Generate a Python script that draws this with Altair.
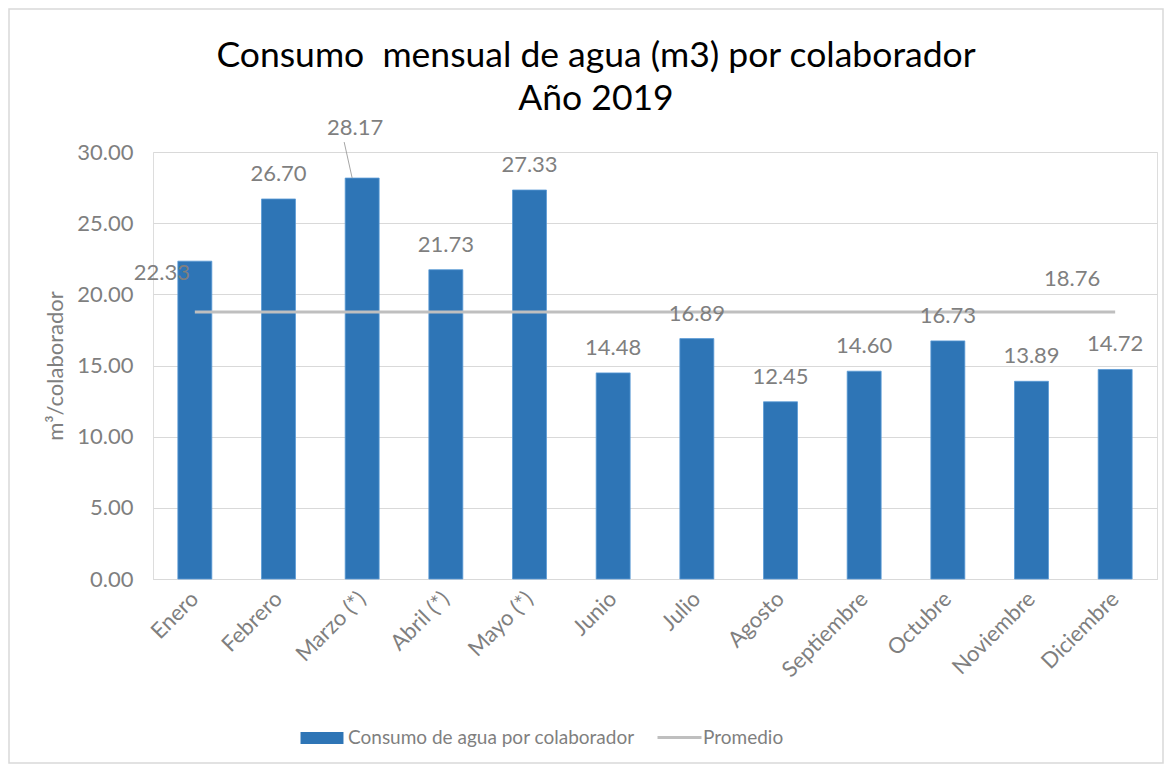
import altair as alt
import pandas as pd

meses = ["Enero", "Febrero", "Marzo (*)", "Abril (*)", "Mayo (*)", "Junio",
         "Julio", "Agosto", "Septiembre", "Octubre", "Noviembre", "Diciembre"]
consumo = [22.33, 26.70, 28.17, 21.73, 27.33, 14.48, 16.89, 12.45, 14.60, 16.73, 13.89, 14.72]
promedio = [18.76, 18.76, 18.76, 18.76, 18.76, 18.76, 18.76, 18.76, 18.76, 18.76, 18.76, 18.76]
serie_barras = "Consumo de agua por colaborador"
serie_linea = "Promedio"
titulo = ["Consumo \u00a0mensual de agua (m3) por colaborador", "Año 2019"]
y_titulo = "m³/colaborador"

FONT = "Lato"
GRAY_TXT = "#7f7f7f"
BLUE = "#2e75b6"
LINE_GRAY = "#bfbfbf"

df = pd.DataFrame({
    "mes": meses,
    "consumo": consumo,
    "promedio": promedio,
    "serie_b": serie_barras,
    "serie_l": serie_linea,
})
df["etiqueta"] = df["consumo"].map(lambda v: f"{v:.2f}")
df["etiqueta_prom"] = df["promedio"].map(lambda v: f"{v:.2f}")

W, H = 1004, 427
PAD = {"left": 145, "top": 144, "right": 7, "bottom": 185}
LBL = 22

xenc = alt.X("mes:N", sort=meses,
             scale=alt.Scale(paddingInner=0.594, paddingOuter=0.297),
             axis=alt.Axis(title=None, labelAngle=315, labelFontSize=22, labelColor=GRAY_TXT,
                           labelFont=FONT, ticks=False, domainColor="#d9d9d9", labelPadding=16,
                           labelAlign="right", labelBaseline="middle", grid=False))
yscale = alt.Scale(domain=[0, 30])

base = alt.Chart(df)

frame = alt.Chart(alt.Data(values=[{"k": 1}])).mark_rect(
    fill=None, stroke="#d9d9d9", strokeWidth=1.5
).encode(x=alt.value(-144), x2=alt.value(1010), y=alt.value(-143), y2=alt.value(611))

bars = base.mark_bar(color=BLUE, stroke="#5b9bd5", strokeWidth=0.8).encode(
    x=xenc,
    y=alt.Y("consumo:Q", scale=yscale,
            axis=alt.Axis(title=y_titulo, format=".2f", values=[0, 5, 10, 15, 20, 25, 30],
                          labelFontSize=22, labelColor=GRAY_TXT, labelFont=FONT,
                          titleFont=FONT, titleFontSize=22, titleColor=GRAY_TXT,
                          titleFontWeight="normal", titlePadding=9,
                          ticks=False, domain=False, labelPadding=20,
                          gridColor="#d9d9d9", gridWidth=1)),
    color=alt.Color("serie_b:N", scale=alt.Scale(range=[BLUE]),
                    legend=alt.Legend(title=None, orient="none", legendX=157, legendY=574,
                                      symbolType="M-1.79,-0.5H1.79V0.5H-1.79Z", symbolSize=576,
                                      symbolStrokeWidth=0, labelOffset=14, labelFontSize=19,
                                      labelLimit=500,
                                      labelFont=FONT, labelColor=GRAY_TXT)),
)

line = base.mark_line(strokeWidth=3).encode(
    x=alt.X("mes:N", sort=meses),
    y=alt.Y("promedio:Q", scale=yscale),
    stroke=alt.Stroke("serie_l:N", scale=alt.Scale(range=[LINE_GRAY]),
                      legend=alt.Legend(title=None, orient="none", legendX=503, legendY=562,
                                        symbolType="stroke", symbolSize=1936,
                                        symbolStrokeWidth=3, labelOffset=0, labelFontSize=19,
                                        labelLimit=500,
                                        labelFont=FONT, labelColor=GRAY_TXT)),
)

normal = base.transform_filter(
    "datum.mes != 'Enero' && datum.mes != 'Marzo (*)'"
).mark_text(fontSize=LBL, font=FONT, color=GRAY_TXT, baseline="middle", dy=-25).encode(
    x=alt.X("mes:N", sort=meses), y=alt.Y("consumo:Q", scale=yscale), text="etiqueta:N")

enero = base.transform_filter("datum.mes == 'Enero'").mark_text(
    fontSize=LBL, font=FONT, color=GRAY_TXT, baseline="middle", dx=-33, dy=12
).encode(x=alt.X("mes:N", sort=meses), y=alt.Y("consumo:Q", scale=yscale), text="etiqueta:N")

marzo = base.transform_filter("datum.mes == 'Marzo (*)'").mark_text(
    fontSize=LBL, font=FONT, color=GRAY_TXT, baseline="middle", dx=-7, dy=-50
).encode(x=alt.X("mes:N", sort=meses), y=alt.Y("consumo:Q", scale=yscale), text="etiqueta:N")

leader = base.transform_filter("datum.mes == 'Marzo (*)'").mark_rule(
    color="#a6a6a6", strokeWidth=1, xOffset=-10, x2Offset=-18, y2Offset=-36
).encode(x=alt.X("mes:N", sort=meses), x2="mes:N",
         y=alt.Y("consumo:Q", scale=yscale), y2="consumo:Q")

prom_lbl = base.transform_filter("datum.mes == 'Diciembre'").mark_text(
    fontSize=LBL, font=FONT, color=GRAY_TXT, baseline="middle", dx=-43, dy=-33
).encode(x=alt.X("mes:N", sort=meses), y=alt.Y("promedio:Q", scale=yscale), text="etiqueta_prom:N")

chart = alt.layer(frame, bars, line, normal, enero, marzo, leader, prom_lbl).resolve_legend(
    color="independent", stroke="independent"
).properties(
    width=W, height=H,
    autosize=alt.AutoSizeParams(type="none"),
    padding=PAD,
    title=alt.TitleParams(text=titulo, fontSize=35.5, font=FONT, color="#000000",
                          fontWeight="normal", anchor="middle", dx=-59, dy=109, offset=0,
                          lineHeight=43),
).configure_view(stroke=None).configure(background="white")

chart.save("out.html", embed_options={"renderer": "svg", "actions": False})
